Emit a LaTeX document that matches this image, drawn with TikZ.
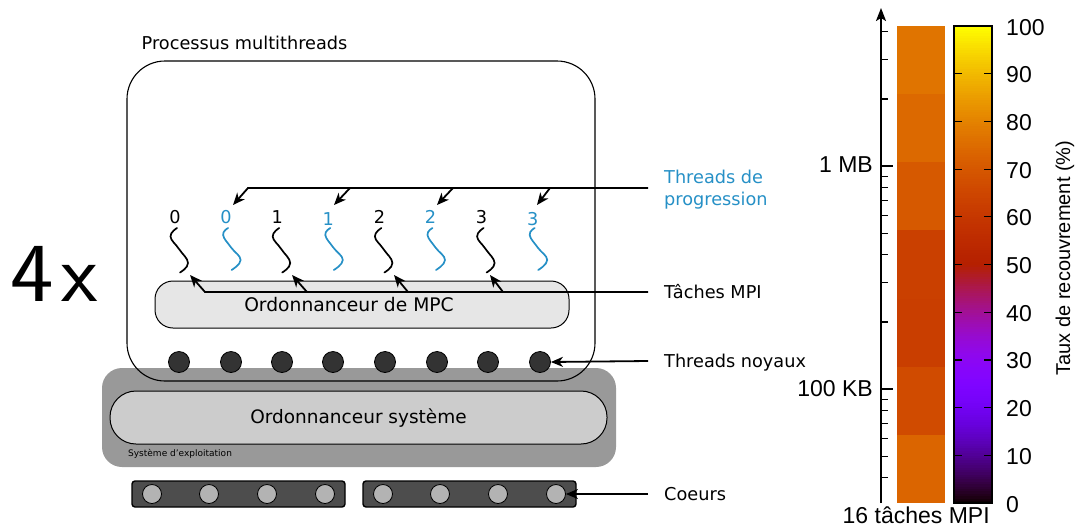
\documentclass[tikz,border=0pt]{standalone}
\usepackage{fontspec}
\usepackage{graphicx}
\setmainfont{DejaVu Sans}
\newfontfamily\hv{Liberation Sans}
\usetikzlibrary{arrows.meta}
\definecolor{progblue}{HTML}{2690C6}
\definecolor{osgray}{HTML}{999999}
\definecolor{schedgray}{HTML}{CCCCCC}
\definecolor{mpcgray}{HTML}{E6E6E6}
\definecolor{dotgray}{HTML}{333333}
\definecolor{coregray}{HTML}{4D4D4D}
\definecolor{corecirc}{HTML}{B3B3B3}
\definecolor{hmA}{RGB}{224,116,0}
\definecolor{hmB}{RGB}{220,105,0}
\definecolor{hmC}{RGB}{214,89,0}
\definecolor{hmD}{RGB}{202,64,0}
\definecolor{hmE}{RGB}{201,62,0}
\definecolor{hmF}{RGB}{208,75,0}
\definecolor{hmG}{RGB}{219,101,0}
\newcommand{\myfs}[1]{\fontsize{#1}{#1}\selectfont}
\begin{document}
\begin{tikzpicture}[x=1pt,y=-1pt,
  lbl/.style={anchor=base west, inner sep=0pt, font=\myfs{17.7}},
  arr/.style={line width=1.8pt, line join=miter, -{Stealth[length=12pt,width=10pt,inset=3.5pt]}},
  plain/.style={line width=1.8pt},
  kdot/.style={circle, draw=black, line width=0.8pt, fill=dotgray, minimum size=21pt, inner sep=0pt},
  cdot/.style={circle, draw=black, line width=0.8pt, fill=corecirc, minimum size=19pt, inner sep=0pt},
  corebox/.style={draw=black, line width=1.4pt, fill=coregray, rounded corners=3pt, minimum width=213pt, minimum height=26pt, inner sep=0pt},
  squig/.style={line width=1.7pt, line cap=round},
  chartlbl/.style={inner sep=0pt, font=\hv\myfs{23}}
]
\useasboundingbox (0,0) rectangle (1076,528);

% ---------------- left diagram ----------------
\node[anchor=base west, inner sep=0pt, font=\myfs{17.7}] (title) at (141.5,49) {Processus multithreads};
\node[anchor=base west, inner sep=0pt, font=\sffamily\myfs{84}] (four) at (10.5,301) {\scalebox{1.1}[1]{4}\kern7pt x};

% OS
\node[fill=osgray, rounded corners=20pt, minimum width=514pt, minimum height=99pt, inner sep=0pt] (os) at (359,417.5) {};
\node[draw=black, line width=1pt, fill=schedgray, rounded corners=26pt, minimum width=497pt, minimum height=53pt, inner sep=0pt] (sys) at (358.5,417.5) {};
\node[anchor=base, inner sep=0pt, font=\myfs{18.5}] (systxt) at (358.5,423) {Ordonnanceur système};
\node[anchor=base west, inner sep=0pt, font=\myfs{9}] (ostxt) at (128,456.5) {Système d'exploitation};

% process box
\draw[line width=1.1pt, rounded corners=38pt] (127,61) rectangle (595,381);

% MPC scheduler
\node[draw=black, line width=1pt, fill=mpcgray, rounded corners=18pt, minimum width=414pt, minimum height=47pt, inner sep=0pt] (mpc) at (362,304.5) {};
\node[anchor=base, inner sep=0pt, font=\myfs{18.7}] (mpctxt) at (349,311) {Ordonnanceur de MPC};

% kernel threads
\foreach \x [count=\i] in {179,231,282,333,385,437,488,540}
  \node[kdot] (k\i) at (\x,362) {};

% cores
\node[corebox] (cb1) at (238.5,494) {};
\node[corebox] (cb2) at (469.5,494) {};
\foreach \x [count=\i] in {152,209,267,325,383,440,498,556}
  \node[cdot] (c\i) at (\x,494) {};

% threads: labels and squiggles
\foreach \i in {0,...,7}{
  \pgfmathsetmacro\xx{175+51.1*\i}
  \pgfmathtruncatemacro\nn{int(\i/2)}
  \pgfmathtruncatemacro\odd{mod(\i,2)}
  \ifnum\odd=1
    \pgfmathsetmacro\bl{\nn==1 || \nn==3 ? 225 : 223}
    \node[anchor=base, inner sep=0pt, font=\myfs{17.7}, text=progblue] (t\i) at (\xx,\bl) {\nn};
    \draw[squig, progblue] plot[smooth, tension=0.75] coordinates {({\xx+2},228) ({\xx-3},235) ({\xx+5},247.5) ({\xx+14.5},260) ({\xx+5.5},270)};
  \else
    \node[anchor=base, inner sep=0pt, font=\myfs{17.7}] (t\i) at (\xx,223) {\nn};
    \draw[squig, black] plot[smooth, tension=0.75] coordinates {({\xx+2},228) ({\xx-4.5},236.5) ({\xx+4},249) ({\xx+13},263) ({\xx+5},272.5)};
  \fi
}

% right labels
\node[lbl, text=progblue] (lprog1) at (664,183.5) {Threads de};
\node[lbl, text=progblue] (lprog2) at (664,205.5) {progression};
\node[lbl] (lmpi) at (664,298.5) {Tâches MPI};
\node[lbl] (lnoy) at (664,367.5) {Threads noyaux};
\node[lbl] (lcoe) at (664,500.5) {Coeurs};

% progression arrows
\coordinate (pstart) at (648,188);
\coordinate (pa1) at (248,188); \coordinate (pb1) at (233,205);
\coordinate (pa2) at (350,188); \coordinate (pb2) at (334,205);
\coordinate (pa3) at (453,188); \coordinate (pb3) at (437,205);
\coordinate (pa4) at (550,188); \coordinate (pb4) at (537,205);
\draw[arr] (pstart) -- (pa1) -- (pb1);
\foreach \j in {2,3,4} \draw[arr] (pa\j) -- (pb\j);

% MPI arrows
\coordinate (mstart) at (648,292);
\coordinate (ma1) at (205,292); \coordinate (mb1) at (190,275);
\coordinate (ma2) at (307,292); \coordinate (mb2) at (292,275);
\coordinate (ma3) at (408,292); \coordinate (mb3) at (394,275);
\coordinate (ma4) at (503,292); \coordinate (mb4) at (490,275);
\draw[arr] (mstart) -- (ma1) -- (mb1);
\foreach \j in {2,3,4} \draw[arr] (ma\j) -- (mb\j);

% kernel threads arrow, cores arrow
\coordinate (nstart) at (648,361);
\draw[arr] (nstart) -- (k8.east);
\coordinate (cstart) at (648,494);
\draw[arr] (cstart) -- (c8.east);

% ---------------- right chart ----------------
% heatmap
\fill[hmA] (897,26) rectangle (945,94.4);
\fill[hmB] (897,94.1) rectangle (945,162.6);
\fill[hmC] (897,162.3) rectangle (945,230.7);
\fill[hmD] (897,230.4) rectangle (945,298.9);
\fill[hmE] (897,298.6) rectangle (945,367);
\fill[hmF] (897,366.7) rectangle (945,435.2);
\fill[hmG] (897,434.9) rectangle (945,503);

% axis
\coordinate (axb) at (881,503);
\coordinate (axt) at (881,8);
\draw[line width=1.8pt, -{Stealth[length=13pt,width=10pt,inset=3pt]}] (axb) -- (axt);
\foreach \yy in {477.7,456.1,438.5,423.5,410.6,399.2,321.9,282.6,254.7,233.1,215.5,200.5,187.6,176.2,98.9,59.6,31.7}
  \draw[line width=1.2pt] (881,\yy) -- (888,\yy);
\draw[line width=1.2pt] (881,166) -- (893,166);
\draw[line width=1.2pt] (881,389) -- (893,389);
\node[chartlbl, anchor=base east] (l1mb) at (873,172) {1 MB};
\node[chartlbl, anchor=base east] (l100kb) at (873,396) {100 KB};
\node[chartlbl, anchor=base west] (lx) at (842.5,523) {16 tâches MPI};

% colour bar
\foreach \i in {0,...,199}{
  \pgfmathsetmacro\vv{(\i+0.5)/200}
  \pgfmathsetmacro\rr{sqrt(\vv)}
  \pgfmathsetmacro\gg{\vv*\vv*\vv}
  \pgfmathsetmacro\bb{max(0,sin(360*\vv))}
  \definecolor{cbc}{rgb}{\rr,\gg,\bb}
  \fill[cbc] (954,{503-2.385*\i+0.3}) rectangle (992,{503-2.385*(\i+1)-0.3});
}
\draw[line width=1.5pt] (954,26) rectangle (992,503);
\foreach \k in {1,...,9}{
  \pgfmathsetmacro\ty{503-47.7*\k}
  \draw[line width=1.2pt] (954,\ty) -- (962,\ty);
  \draw[line width=1.2pt] (984,\ty) -- (992,\ty);
}
\foreach \k in {0,...,10}{
  \pgfmathsetmacro\ty{503-47.7*\k+9}
  \pgfmathtruncatemacro\lab{10*\k}
  \node[chartlbl, anchor=base west] (cb\k) at (1006,\ty) {\lab};
}
\node[inner sep=0pt, rotate=90, font=\hv\myfs{20}] (ylab) at (1065,258) {Taux de recouvrement (\%)};
\end{tikzpicture}
\end{document}
